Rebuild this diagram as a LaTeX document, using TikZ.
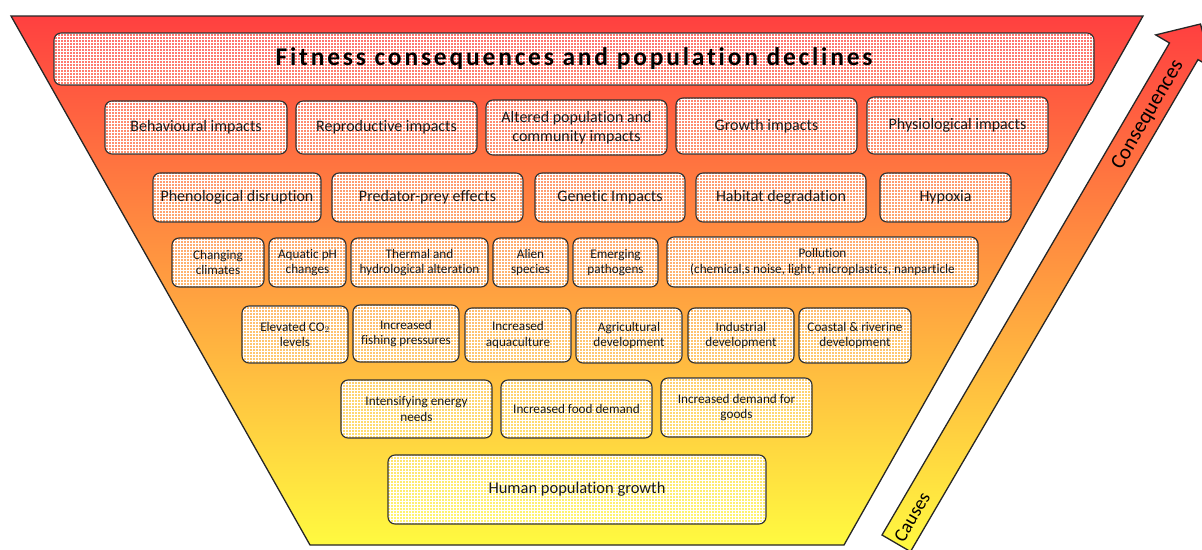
\documentclass[tikz,border=0pt]{standalone}
\usepackage{fontspec}
\setmainfont{Carlito}[Ligatures=NoCommon]
\newfontfamily\titlefont{Carlito}[LetterSpace=11,Ligatures=NoCommon]
\usetikzlibrary{patterns}
\definecolor{fred}{RGB}{255,64,64}
\definecolor{forange}{RGB}{255,165,64}
\definecolor{fyellow}{RGB}{255,250,64}
\definecolor{ink}{RGB}{25,25,25}
\begin{document}
\begin{tikzpicture}[x=1pt,y=-1pt,
  funnel/.style={top color=fred, middle color=forange, bottom color=fyellow, draw=black!85, line width=1.3pt},
  box/.style={draw=black!80, line width=1.15pt, rounded corners=7pt,
    text=ink, inner sep=0pt, align=center,
    preaction={fill=white, fill opacity=0.25},
    preaction={pattern=grid, pattern color=white, fill opacity=0.22}},
  big/.style={box, font=\fontsize{16}{19}\selectfont},
  small/.style={box, font=\fontsize{13.2}{15.8}\selectfont},
  lbl/.style={text=black, rotate=59.7, inner sep=0pt}
]
\useasboundingbox (0,0) rectangle (1202,549);
\begin{scope}
\clip (0,0) rectangle (1202,549);
% funnel
\path[funnel] (11,16) -- (1143,16) -- (844,545) -- (310,545) -- cycle;
% arrow
\coordinate (BL) at (882,535);
\coordinate (BR) at (910.5,551.6);
\coordinate (LN) at (1169.5,43);
\coordinate (LW) at (1155.7,34.9);
\coordinate (TP) at (1200.5,24);
\coordinate (RW) at (1211.8,67.7);
\coordinate (RN) at (1198,59.6);
\path[funnel] (BL) -- (LN) -- (LW) -- (TP) -- (RW) -- (RN) -- (BR) -- cycle;
\end{scope}
\node[lbl, font=\fontsize{21}{24}\selectfont] (cons) at (1148,115) {Consequences};
\node[lbl, font=\fontsize{19}{22}\selectfont] (caus) at (912,517) {Causes};

% title
\node[box, minimum width=1040pt, minimum height=52pt, font=\titlefont\bfseries\fontsize{25.5}{30}\selectfont, text=black] (title) at (574,59) {Fitness consequences and population declines};

% row 2
\node[big, minimum width=182pt, minimum height=53pt] (behav) at (196,127.5) {Behavioural impacts};
\node[big, minimum width=181pt, minimum height=53pt] (repro) at (386.5,127.5) {Reproductive impacts};
\node[big, minimum width=181pt, minimum height=55pt] (alter) at (576.5,127.5) {Altered population and\\community impacts};
\node[big, minimum width=181pt, minimum height=56pt] (growth) at (766.5,126) {Growth impacts};
\node[big, minimum width=181pt, minimum height=57pt] (physio) at (957.5,125.5) {Physiological impacts};

% row 3
\node[big, minimum width=168pt, minimum height=49pt] (pheno) at (237,197.5) {Phenological disruption};
\node[big, minimum width=191pt, minimum height=49pt] (pred) at (427.5,197.5) {Predator-prey effects};
\node[big, minimum width=150pt, minimum height=49pt] (genet) at (610,197.5) {Genetic Impacts};
\node[big, minimum width=170pt, minimum height=49pt] (habit) at (781,197.5) {Habitat degradation};
\node[big, minimum width=131pt, minimum height=49pt] (hypox) at (945.5,197.5) {Hypoxia};

% row 4
\node[small, minimum width=92pt, minimum height=49pt] (clim) at (218,262.5) {Changing\\climates};
\node[small, minimum width=77pt, minimum height=49pt] (ph) at (307.5,262.5) {Aquatic pH\\changes};
\node[small, minimum width=137pt, minimum height=49pt] (therm) at (419.5,262.5) {Thermal and\\hydrological alteration};
\node[small, minimum width=75pt, minimum height=49pt] (alien) at (530.5,262.5) {Alien\\species};
\node[small, minimum width=85pt, minimum height=49pt] (patho) at (615.5,262.5) {Emerging\\pathogens};
\node[small, minimum width=311pt, minimum height=50pt] (poll) at (822.5,262) {Pollution\\(chemical,s noise, light, microplastics, nanparticle};

% row 5
\node[small, minimum width=106pt, minimum height=57pt] (co2) at (295,334.5) {Elevated CO$_2$\\levels};
\node[small, minimum width=106pt, minimum height=57pt] (fish) at (406,333.5) {Increased\\fishing pressures};
\node[small, minimum width=106pt, minimum height=54pt] (aqua) at (518,335) {Increased\\aquaculture};
\node[small, minimum width=106pt, minimum height=55pt] (agri) at (629,335.5) {Agricultural\\development};
\node[small, minimum width=106pt, minimum height=55pt] (indus) at (741,335.5) {Industrial\\development};
\node[small, minimum width=112pt, minimum height=55pt] (coast) at (855,335.5) {Coastal \& riverine\\development};

% row 6
\node[small, minimum width=151pt, minimum height=58pt] (energy) at (416.5,409) {Intensifying energy\\needs};
\node[small, minimum width=151pt, minimum height=58pt] (food) at (576.5,409) {Increased food demand};
\node[small, minimum width=151pt, minimum height=59pt] (goods) at (736.5,407.5) {Increased demand for\\goods};

% base
\node[box, font=\fontsize{16.5}{19}\selectfont, minimum width=378pt, minimum height=69pt] (human) at (577,489.5) {Human population growth};
\end{tikzpicture}
\end{document}
